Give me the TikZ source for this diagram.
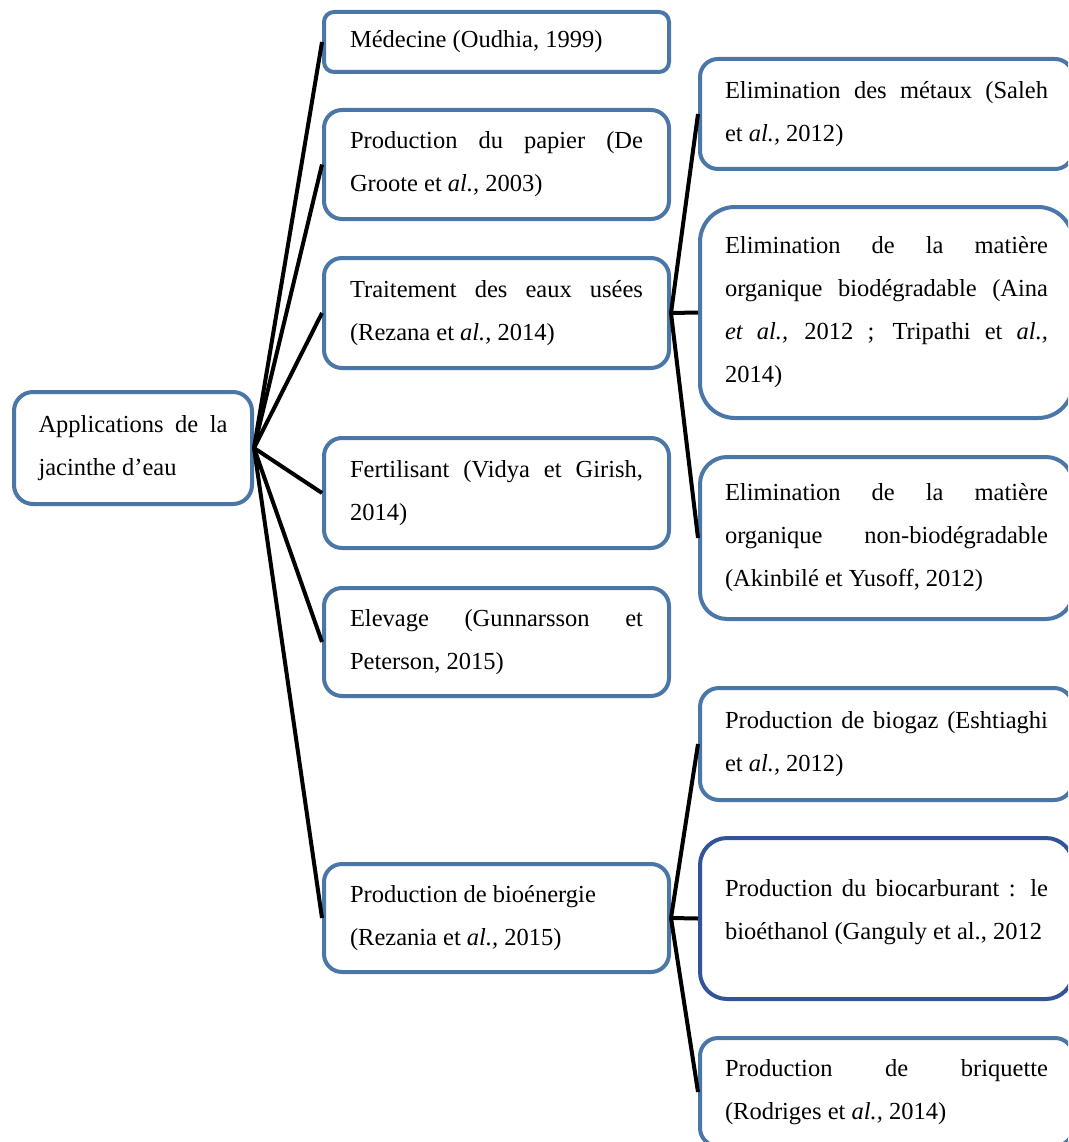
\documentclass[tikz,border=0pt]{standalone}
\usepackage{fontspec}
\setmainfont{Liberation Serif}
\definecolor{boxblue}{RGB}{74,118,168}
\definecolor{boxdark}{RGB}{50,84,150}
\begin{document}
\begin{tikzpicture}[x=1pt,y=-1pt,
  appbox/.style={draw=boxblue, line width=4pt, fill=white, align=justify,
    anchor=north west, inner ysep=0pt,
    font=\fontsize{24.5}{43}\selectfont},
  colA/.style={appbox, text width=293pt, inner xsep=26pt},
  colB/.style={appbox, text width=323pt, inner xsep=25pt},
  conn/.style={line width=4pt, black}]
\useasboundingbox (0,0) rectangle (1068,1142);
\clip (0,0) rectangle (1068,1142);
% root
\node[appbox, text width=189pt, inner xsep=24.5pt, minimum height=112pt, rounded corners=19pt] (root) at (12,390)
  {Applications de la jacinthe d'eau};
% column 2
\node[colA, minimum height=60pt, rounded corners=10pt] (med) at (322,10)
  {Médecine (Oudhia, 1999)};
\node[colA, minimum height=109pt, rounded corners=18pt] (pap) at (322,108)
  {Production du papier (De \linebreak Groote et \textit{al.,} 2003)};
\node[colA, minimum height=110pt, rounded corners=18pt] (trt) at (322,256)
  {Traitement des eaux usées \linebreak (Rezana et \textit{al.,} 2014)};
\node[colA, minimum height=110pt, rounded corners=18pt] (fer) at (322,436)
  {Fertilisant (Vidya et Girish, \linebreak 2014)};
\node[colA, minimum height=108pt, rounded corners=18pt] (ele) at (322,586)
  {Elevage (Gunnarsson et \linebreak Peterson, 2015)};
\node[colA, minimum height=108pt, rounded corners=18pt] (bio) at (322,862)
  {Production de bioénergie\\(Rezania et \textit{al.,} 2015)};
% column 3
\node[colB, minimum height=110pt, rounded corners=18pt] (met) at (698,57)
  {Elimination des métaux (Saleh \linebreak et \textit{al.,} 2012)};
\node[colB, minimum height=211pt, rounded corners=35pt] (bdg) at (698,205)
  {Elimination de la matière \linebreak organique biodégradable (Aina \linebreak \textit{et al.,} 2012 ; Tripathi et \textit{al.,} \linebreak 2014)};
\node[colB, minimum height=162pt, rounded corners=27pt] (nbd) at (698,455)
  {Elimination de la matière \linebreak organique non-biodégradable \linebreak (Akinbilé et Yusoff, 2012)};
\node[colB, minimum height=112pt, rounded corners=19pt] (gaz) at (698,686)
  {Production de biogaz (Eshtiaghi \linebreak et \textit{al.,} 2012)};
\node[colB, draw=boxdark, minimum height=161pt, rounded corners=27pt] (car) at (698,836)
  {Production du biocarburant : le \linebreak bioéthanol (Ganguly et al., 2012\par\vspace{-25pt}\noindent\mbox{}};
\node[colB, minimum height=108pt, rounded corners=18pt] (bri) at (698,1036)
  {Production de briquette \linebreak (Rodriges et \textit{al.,} 2014)};
% connectors
\foreach \t in {med,pap,trt,fer,ele,bio}
  \draw[conn] (root.east) -- (\t.west);
\foreach \t in {met,bdg,nbd}
  \draw[conn] (trt.east) -- (\t.west);
\foreach \t in {gaz,car,bri}
  \draw[conn] (bio.east) -- (\t.west);
\end{tikzpicture}
\end{document}
